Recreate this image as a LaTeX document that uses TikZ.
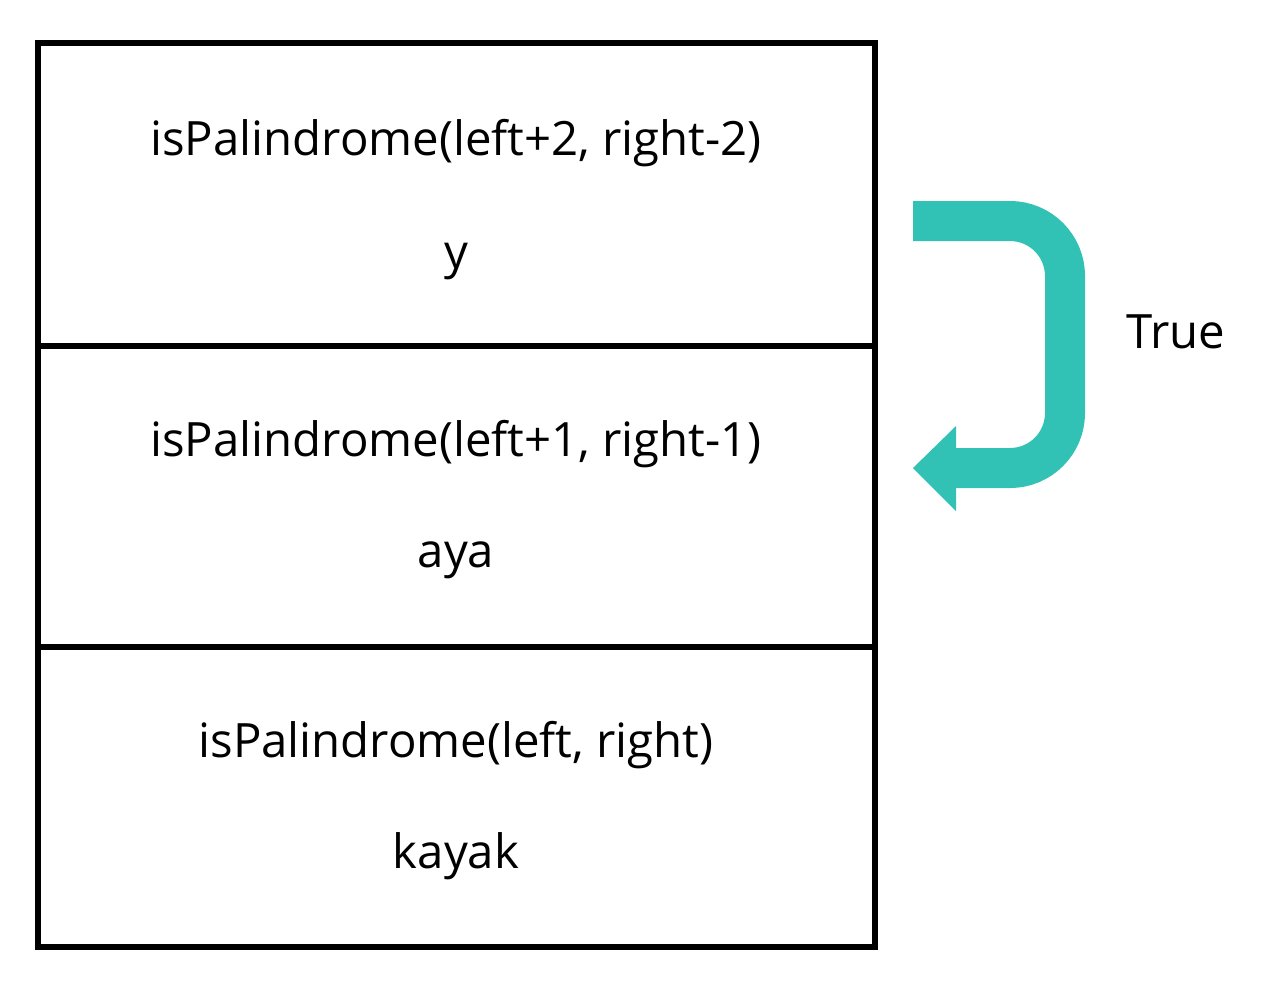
\documentclass[tikz,border=0pt]{standalone}
\usepackage{fontspec}
\setmainfont{Open Sans}
\definecolor{teal}{HTML}{32C1B5}
\begin{document}
\begin{tikzpicture}[x=0.75pt,y=-0.75pt,
  frame/.style={draw=black,line width=3.9pt,minimum width=837*0.75pt,inner sep=0pt},
  lbl/.style={anchor=base,font=\fontsize{35.5}{40}\selectfont,inner sep=0pt},
  band/.style={draw=teal,line width=30pt,rounded corners=41.25pt}]
\useasboundingbox (0,0) rectangle (1277,1001);
\node[frame,minimum height=303*0.75pt] (b1) at (456.5,194.5) {};
\node[frame,minimum height=301*0.75pt] (b2) at (456.5,496.5) {};
\node[frame,minimum height=300*0.75pt] (b3) at (456.5,797) {};
\node[lbl] (t1) at (456,155) {isPalindrome(left+2, right-2)};
\node[lbl] (v1) at (456,268) {y};
\node[lbl] (t2) at (456,456) {isPalindrome(left+1, right-1)};
\node[lbl] (v2) at (456,567) {aya};
\node[lbl] (t3) at (456,757) {isPalindrome(left, right)};
\node[lbl] (v3) at (456,868) {kayak};
\node[lbl] (tr) at (1176,348) {True};
\coordinate (s) at (913,221);
\coordinate (c) at (1065,468);
\coordinate (e) at (956,468);
\coordinate (tip) at (913,468);
\draw[band] (s) -| (c) -- ([xshift=-2]e);
\fill[teal] (tip) -- (956,426) -- (956,511) -- cycle;
\end{tikzpicture}
\end{document}
